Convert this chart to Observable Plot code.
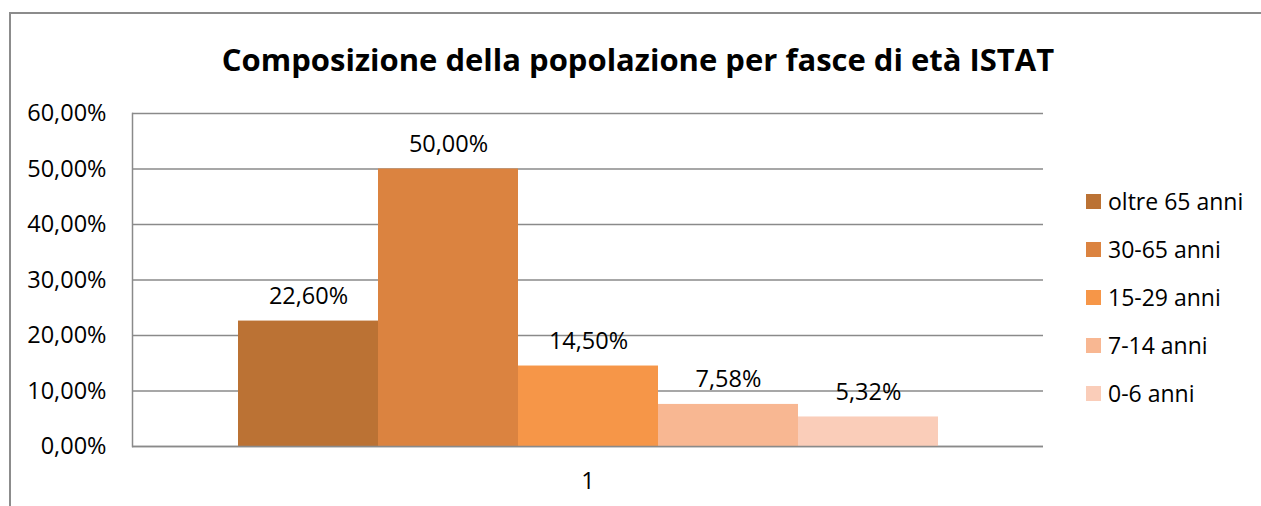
<!DOCTYPE html>
<html>
<head>
<meta charset="utf-8">
<script src="https://cdn.jsdelivr.net/npm/d3@7"></script>
<script src="https://cdn.jsdelivr.net/npm/@observablehq/plot@0.6"></script>
<style>
  html, body { margin: 0; padding: 0; background: #fff; overflow: hidden; }
  #wrap { position: relative; width: 1261px; height: 506px; font-family: "Open Sans", sans-serif; }
  #border { position: absolute; left: 9px; top: 12px; width: 1400px; height: 700px; border: 2px solid #8c8c8c; box-sizing: border-box; }
  #title { position: absolute; left: 0; width: 1276px; top: 36px; text-align: center; font-weight: bold; font-size: 31px; color: #000; line-height: 46px; }
  #legend { position: absolute; left: 1086px; top: 177px; }
  .item { display: flex; align-items: center; height: 48px; font-size: 23px; color: #000; }
  .sw { width: 15px; height: 15px; margin-right: 7px; flex: none; }
  #chart { position: absolute; left: 0; top: 0; }
</style>
</head>
<body>
<div id="wrap">
  <div id="border"></div>
  <div id="chart"></div>
  <div id="title">Composizione della popolazione per fasce di età ISTAT</div>
  <div id="legend"></div>
</div>
<script>
const categories = ["1"];
const series = ["oltre 65 anni", "30-65 anni", "15-29 anni", "7-14 anni", "0-6 anni"];
const values = [22.6, 50.0, 14.5, 7.58, 5.32];
const colors = ["#bb7234", "#db8340", "#f69648", "#f8b792", "#facdb9"];
const yTicks = [0, 10, 20, 30, 40, 50, 60];

const fmt = d => d.toFixed(2).replace(".", ",") + "%";
const data = series.map((s, i) => ({cat: categories[0], series: s, value: values[i]}));

const chart = Plot.plot({
  width: 1261,
  height: 506,
  marginTop: 113,
  marginBottom: 60,
  marginLeft: 132,
  marginRight: 218,
  style: {fontFamily: "Open Sans, sans-serif", fontSize: "23.5px", color: "#000", background: "transparent", overflow: "visible"},
  x: {domain: series, paddingInner: 0, paddingOuter: 0.749, axis: null},
  y: {domain: [0, 60], label: null},
  color: {domain: series, range: colors},
  marks: [
    Plot.ruleY(yTicks, {stroke: "#8a8a8a", strokeWidth: 1.5}),
    Plot.frame({anchor: "left", stroke: "#8a8a8a", strokeWidth: 1.5}),
    Plot.barY(data, {x: "series", y: "value", fill: "series"}),
    Plot.ruleY([0], {stroke: "#8a8a8a", strokeWidth: 1.5}),
    Plot.text(data, {x: "series", y: "value", text: d => fmt(d.value), dy: -25, lineAnchor: "middle", fill: "#000", fontSize: 23.5}),
    Plot.axisY({ticks: yTicks, tickFormat: fmt, tickSize: 0, tickPadding: 26, fontSize: 23.5, label: null}),
    Plot.text(categories, {frameAnchor: "bottom", dy: 35, lineAnchor: "middle", text: d => d, fill: "#000", fontSize: 23.5})
  ]
});
document.getElementById("chart").appendChild(chart);

const legend = document.getElementById("legend");
series.forEach((s, i) => {
  const item = document.createElement("div");
  item.className = "item";
  const sw = document.createElement("span");
  sw.className = "sw";
  sw.style.background = colors[i];
  const lab = document.createElement("span");
  lab.textContent = s;
  item.appendChild(sw);
  item.appendChild(lab);
  legend.appendChild(item);
});
</script>
</body>
</html>
